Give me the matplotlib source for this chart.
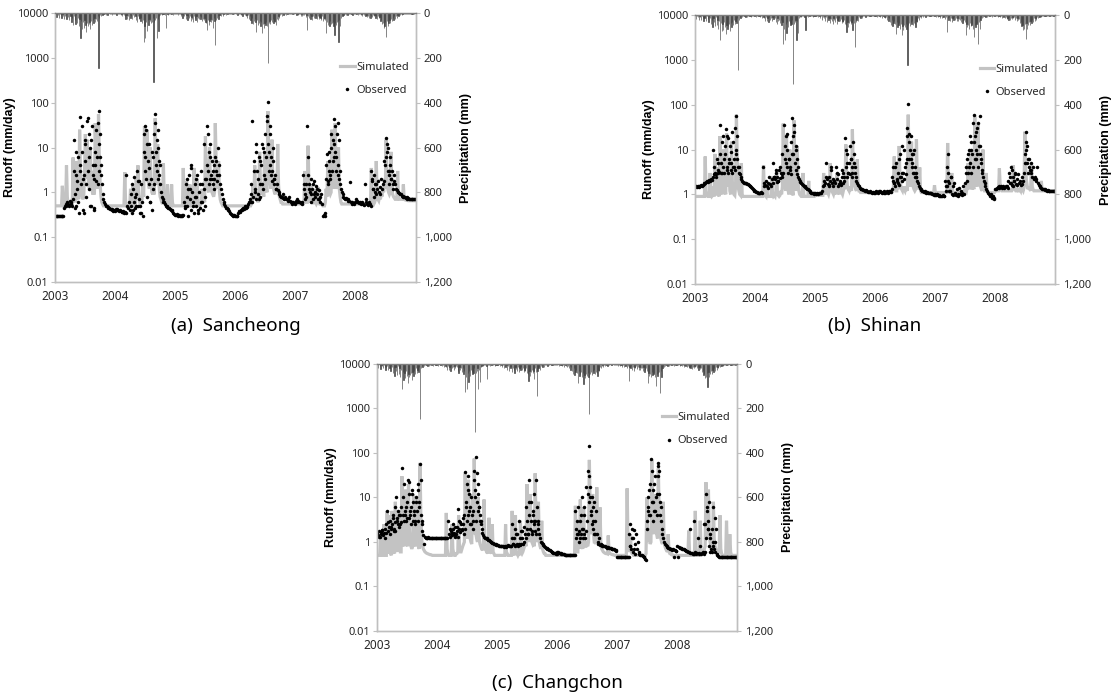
import matplotlib
matplotlib.use('Agg')
import matplotlib.pyplot as plt
from matplotlib.ticker import NullLocator

plt.rcParams['font.family'] = ['Noto Sans', 'DejaVu Sans']

# ---------------- axis data ----------------
years = ['2003', '2004', '2005', '2006', '2007', '2008']
year_start = [0, 365, 731, 1096, 1461, 1826]      # day offsets of 1 Jan
x_end = 2192
runoff_ticks = [0.01, 0.1, 1, 10, 100, 1000, 10000]
runoff_labels = ['0.01', '0.1', '1', '10', '100', '1000', '10000']
precip_ticks = [0, 200, 400, 600, 800, 1000, 1200]
precip_labels = ['0', '200', '400', '600', '800', '1,000', '1,200']

# ---------------- precipitation (mm, 5-day max, shared) ----------------
precip_2003 = [3,18,2,10,22,5, 8,20,4,15,25,12, 10,28,6,18,30,8, 15,40,20,55,12,30, 50,10,45,20,60,25, 113,35,70,40,65,30, 55,85,45,60,50,40, 70,35,55,30,45,20, 40,25,35,15,247,20, 10,15,5,8,3,6, 5,8,3,10,4,2, 6,3,8,2,5,4,3]
precip_2004 = [4,8,2,6,3,5, 10,6,15,4,8,12, 25,10,28,15,30,8, 20,12,25,8,18,10, 15,30,40,12,25,20, 35,20,45,30,128,60, 113,40,80,30,55,25, 35,45,40,20,306,40, 30,20,113,25,80,15, 10,5,8,3,6,4, 8,68,5,3,10,4, 6,3,5,2,8,4,3]
precip_2005 = [3,6,2,8,4,5, 12,5,20,8,15,6, 25,10,30,15,20,12, 35,18,25,40,15,22, 30,12,38,20,25,15, 28,18,35,25,30,20, 40,45,76,30,54,35, 25,40,30,68,20,35, 143,30,20,15,25,10, 8,12,5,15,6,4, 5,8,3,6,2,4, 3,5,2,4,6,3,2]
precip_2006 = [5,2,8,3,6,4, 10,4,12,6,3,8, 15,8,20,10,25,12, 30,45,20,50,35,25, 40,85,30,55,45,35, 60,40,90,50,65,45, 55,40,60,225,45,35, 50,30,40,25,45,35, 40,54,25,30,15,20, 10,6,12,4,8,3, 5,8,3,6,2,4, 3,6,2,5,3,4,2]
precip_2007 = [4,8,3,10,5,6, 12,6,15,8,10,5, 18,10,76,15,20,8, 25,12,30,15,20,10, 22,15,28,12,25,18, 20,30,15,35,25,20, 30,87,40,55,45,60, 35,50,45,40,60,97, 45,55,40,35,130,30, 60,20,10,15,8,5, 6,10,4,8,3,5, 4,6,3,8,2,5,3]
precip_2008 = [3,6,2,8,4,5, 10,4,12,6,8,5, 15,8,18,12,20,10, 23,12,18,8,15,10, 20,12,25,15,22,18, 35,30,50,45,65,60, 40,105,35,60,45,30, 45,25,35,20,30,15, 25,12,20,10,15,8, 10,5,8,3,6,4, 5,3,6,2,4,3, 3,2,5,3,2,4,2]
precip = [precip_2003, precip_2004, precip_2005, precip_2006, precip_2007, precip_2008]

# ---------------- (a) Sancheong ----------------
obs_a = [
 [0.3,0.3,0.3,0.3,0.3,0.3, 0.3,0.3,0.3,0.3,0.45,0.5, 0.55,0.5,0.6,0.55,0.5,0.65, 0.55,0.6,0.5,0.7,15,0.45, 2.5,0.5,1.2,6,0.35,3, 48,1.5,8,0.4,2.5,15, 5,0.8,40,3,20,1.2, 10,0.5,30,4,0.45,2, 4,25,6,1.5,12,65, 6,2.5,1.5,0.9,0.7,0.6, 0.55,0.5,0.5,0.45,0.48,0.45, 0.42,0.42,0.4,0.42,0.38,0.4,0.38],
 [0.42,0.4,0.42,0.4,0.38,0.4, 0.38,0.37,0.36,0.38,0.35,0.36, 0.35,2.5,0.5,0.45,0.6,0.4, 0.9,0.5,0.35,1.2,0.6,0.45, 0.8,0.5,3,1.8,0.7,0.5, 0.35,1.5,0.6,0.3,8,30, 3,25,0.8,5,1.5,12, 0.6,2,0.4,6,1.5,20, 55,8,3,25,2,5, 1.5,1.0,0.8,0.7,0.6,0.6, 0.55,0.5,0.5,0.48,0.45,0.45, 0.42,0.4,0.4,0.38,0.35,0.33,0.32],
 [0.32,0.33,0.32,0.3,0.32,0.3, 0.3,0.32,0.3,0.31,0.6,0.45, 1.5,0.8,0.5,1.2,2.5,0.7, 0.4,4,1.0,0.6,0.35,1.5, 0.8,0.5,2.5,0.35,1.0,0.45, 3,0.6,1.5,0.4,1.2,0.8, 0.5,2,30,3,8,2, 12,2.5,5,1.5,4,2, 6,3,1.8,10,2.5,4, 1.5,1.2,0.9,0.7,0.6,0.55, 0.5,0.45,0.45,0.42,0.4,0.38, 0.35,0.33,0.32,0.32,0.3,0.32,0.3],
 [0.3,0.3,0.3,0.35,0.38,0.36, 0.4,0.42,0.4,0.45,0.42,0.5, 0.45,0.5,0.48,0.55,0.6,0.7, 0.9,0.6,40,0.8,5,1.2, 0.7,12,3,0.9,6,1.5, 0.8,4,12,1.2,8,2, 20,6,50,105,8,30, 4,2.5,3,10,2,1.5, 2.5,1.2,1.5,1.1,1.0,0.9, 0.85,0.8,0.8,0.75,0.9,0.7, 0.8,0.7,0.72,0.65,0.7,0.8, 0.65,0.6,0.62,0.55,0.6,0.58,0.55],
 [0.65,0.6,0.7,0.65,0.6,0.62, 0.58,0.6,0.55,2.5,1.2,0.9, 1.5,0.8,30,6,1.5,1.0, 2,0.9,1.2,0.7,1.8,1.0, 0.8,1.4,0.9,0.7,1.1,0.8, 0.6,0.9,0.55,0.3,0.32,0.3, 0.35,2,7,1.5,3,5, 2,10,3,15,6,44, 8,3,20,35,4,2, 1.5,1.2,1.0,0.9,0.8,0.75, 0.7,0.75,0.7,0.65,0.7,0.65, 1.7,0.6,0.55,0.6,0.58,0.55,0.6],
 [0.7,0.65,0.6,0.62,0.58,0.6, 0.55,0.58,0.6,0.55,0.52,1.5, 0.7,0.6,0.55,0.52,0.6,0.55, 0.5,3,1.8,1.2,2.5,1.0, 1.5,0.9,1.2,1.8,1.0,1.3, 0.9,2,1.2,1.5,1.8,5, 4,16,8,10,3,2.5, 4,2,3,1.5,2.5,1.8, 1.5,1.2,1.1,1.0,1.0,0.95, 0.9,0.9,0.85,0.85,0.8,0.8, 0.78,0.75,0.78,0.72,0.75,0.72, 0.7,0.72,0.7,0.72,0.7,0.7,0.72],
]
obs_a_extra = [(112,3),(118,0.9),(127,8),(133,1.8),(140,0.6),(148,4),(160,30),(168,2),(172,0.35),(180,12),(188,1.5),(196,45),(203,6),(210,0.5),(218,15),(226,2.5),(233,0.4),(241,8),(247,1.8),(258,35),(265,3),(272,20),(278,4),
 (465,1.5),(472,0.4),(480,2.2),(490,0.9),(500,0.5),(510,1.8),(520,0.35),(540,20),(547,6),(553,2),(560,12),(567,3.5),(575,0.6),(585,8),(593,1.2),(606,35),(612,4),(618,15),(626,10),(632,2.5),(638,4),
 (790,0.5),(798,2),(808,0.3),(818,1.2),(828,3.5),(838,0.5),(848,0.8),(858,2),(868,0.4),(878,1.5),(890,0.6),(905,12),(912,2),(920,4),(928,20),(935,1.5),(942,6),(950,2),(958,3),(965,1.2),(975,5),(985,2.5),
 (1190,1.5),(1198,0.6),(1206,3),(1215,1),(1222,8),(1230,2),(1238,0.7),(1246,5),(1255,1.5),(1262,10),(1270,2.5),(1290,40),(1295,12),(1300,3),(1306,20),(1312,6),(1318,1.8),(1325,5),(1332,2),(1340,1.2),
 (1515,1.5),(1522,0.7),(1535,2.5),(1545,1.2),(1555,0.6),(1565,1.5),(1575,0.9),(1590,1.2),(1605,0.7),(1650,4),(1657,1.8),(1665,8),(1672,2.5),(1680,20),(1687,5),(1695,12),(1702,30),(1710,6),(1718,2.5),(1725,15),(1732,3),
 (1925,2),(1933,1.2),(1941,0.8),(1950,1.5),(2010,6),(2017,12),(2023,3),(2030,1.5),(2037,6),(2045,2),(2055,1.2)]
sim_a = [
 [0.5,0.5,0.5,0.5,0.5,0.5, 0.5,0.5,1.4,0.6,0.5,0.5, 0.5,4,0.8,0.55,0.5,0.5, 0.5,0.5,0.55,6,1.0,0.7, 0.6,5,1.0,0.8,0.7,25, 3,1.2,0.8,0.7,0.8,3, 20,2,15,2.5,1.5,1.2, 10,2,1.2,0.9,3,0.9, 35,4,1.5,1.2,55,6, 1.5,0.8,0.6,0.55,0.5,0.5, 0.5,0.5,0.5,0.5,0.5,0.5, 0.5,0.5,0.5,0.5,0.5,0.5,0.5],
 [0.5,0.5,0.5,0.5,0.5,0.5, 0.5,0.5,0.5,0.5,0.5,2.8, 0.6,0.5,0.5,0.5,0.5,0.5, 1.2,0.6,0.5,1.4,0.6,0.5, 0.55,2,0.7,4,0.9,0.6, 0.55,0.6,0.7,1.5,0.8,30, 2,3,25,2.5,1.5,1.2, 10,1.5,1.0,0.9,1.2,0.9, 45,4,1.5,12,2,1.2, 0.8,0.7,0.6,0.55,4.5,0.8, 0.6,0.55,0.5,1.5,0.6,0.55, 0.5,0.5,1.5,0.6,0.5,0.5,0.5],
 [0.5,0.5,0.5,0.5,0.5,0.5, 0.5,0.5,0.5,3.5,0.7,0.55, 0.5,1.8,0.6,0.5,0.5,1.5, 0.6,0.5,0.5,0.5,3.5,0.7, 0.55,0.5,2,0.6,0.55,0.5, 0.55,0.6,1.2,0.7,0.8,0.6, 18,3,1.5,1.2,1.0,10, 2,1.2,1.0,0.9,0.8,1.0, 35,5,2,1.2,5,1.0, 0.7,0.6,0.55,0.5,0.5,0.5, 0.5,0.5,0.5,0.5,0.5,0.5, 0.5,0.5,0.5,0.5,0.5,0.5,0.5],
 [0.5,0.5,0.5,0.5,0.5,0.5, 0.5,0.5,0.5,0.5,0.5,0.5, 0.5,0.5,0.5,0.5,0.5,0.5, 0.5,0.55,0.6,1.5,0.7,4, 0.9,0.8,0.7,0.6,0.7,8, 1.5,1.0,0.9,1.2,0.8,7, 1.5,1.2,1.0,65,8,2, 1.5,1.2,15,2,1.2,1.0, 0.9,1.2,1.0,12,1.5,0.8, 0.7,0.6,0.6,0.55,0.55,0.55, 0.55,0.55,0.55,0.55,0.55,0.55, 0.55,0.55,0.55,0.55,0.55,0.55,0.55],
 [0.55,0.55,0.55,0.55,0.55,0.55, 0.55,0.55,0.55,0.55,0.6,3, 0.8,0.6,0.6,11,1.2,0.7, 0.6,1.5,0.7,0.6,0.55,1.2, 0.6,0.55,0.6,1.3,0.6,0.55, 0.55,0.55,0.55,0.5,0.5,0.5, 0.6,1.2,0.8,5,1.2,1.0, 0.9,1.0,25,2,2,1.2, 35,3,1.5,1.2,10,1.2, 0.8,0.6,0.55,0.55,0.55,0.55, 0.55,0.55,0.55,0.55,0.55,0.55, 0.55,0.55,0.55,0.55,0.55,0.55,0.55],
 [0.55,0.55,0.55,0.55,0.55,0.55, 0.55,0.55,0.55,0.55,0.55,0.55, 0.55,0.55,0.55,0.55,0.55,0.55, 0.55,3.5,0.8,0.6,0.55,0.6, 0.7,5,1.0,0.7,0.65,0.8, 0.7,0.9,0.8,1.2,1.0,2, 1.2,15,2,1.2,1.0,0.9, 1.0,8,1.2,0.9,0.8,0.75, 0.7,0.7,0.7,3,0.8,0.7, 0.7,0.7,0.7,0.7,1.5,0.7, 0.68,0.68,0.66,0.66,0.65,0.65, 0.65,0.65,0.65,0.65,0.65,0.65,0.65],
]

# ---------------- (b) Shinan ----------------
obs_b = [
 [1.45,1.5,1.45,1.5,1.45,1.5, 1.5,1.6,1.55,1.6,1.7,1.75, 1.8,1.9,2.0,1.9,2.0,2.1, 2.0,2.2,2.1,2.4,10,2.8, 3,2.5,6,3.5,3,3.2, 35,5,3,15,4,3, 8,28,4,20,3,6, 12,3.5,5,25,4,6, 3.5,10,55,6,4,3, 2.8,2.5,2.2,2.0,1.9,1.8, 1.8,1.8,1.75,1.7,1.7,1.6, 1.55,1.5,1.45,1.4,1.3,1.25,1.2],
 [1.2,1.15,1.15,1.1,1.1,1.1, 1.1,1.15,1.1,4,1.8,1.5, 1.6,2,1.5,1.8,1.4,2.5, 1.7,1.5,2.2,1.8,5,2.5, 2.2,3,1.9,2.5,2,3.5, 2.3,3,2.5,8,3,35, 6,20,4,10,3,6, 4,2.8,15,50,8,25, 5,10,3.5,2.8,2.4,2.2, 2,1.9,1.8,1.7,1.6,1.5, 1.5,1.45,1.4,1.35,1.3,1.25, 1.2,1.15,1.1,1.1,1.05,1.05,1.0],
 [1.05,1.0,1.05,1.0,1.05,1.1, 1.1,1.05,1.2,1.5,2,1.6, 1.8,5,2.2,1.7,2.5,1.6, 2,3.5,1.8,2.2,1.5,2, 1.8,4,2.2,1.5,2.8,1.7, 2,1.6,2.5,3,1.8,2.5, 18,4,2.5,8,3,5, 2.8,6,3,4,15,5, 3,2.5,2,1.8,1.6,1.5, 1.4,1.35,1.3,1.3,1.25,1.25, 1.2,1.25,1.2,1.2,1.15,1.15, 1.15,1.2,1.15,1.1,1.15,1.1,1.1],
 [1.15,1.2,1.15,1.1,1.15,1.2, 1.2,1.15,1.1,1.15,1.2,1.1, 1.1,1.15,1.2,1.1,1.15,1.2, 1.2,1.15,1.3,2,4,1.8, 1.5,5,2.2,1.8,3,1.6, 8,2.5,2,12,3,2.2, 4,2.8,20,6,105,22, 10,6,8,4,3,10, 2.5,3,2.5,2,1.8,1.5, 1.4,1.3,1.25,1.2,1.2,1.15, 1.15,1.2,1.1,1.15,1.1,1.1, 1.1,1.05,1.05,1.0,1.0,0.95,0.95],
 [1.0,0.95,1.0,0.95,0.9,0.95, 0.9,0.92,0.9,0.95,0.9,0.92, 2,1.2,1.5,3,8,1.8, 1.2,2.5,1.0,1.5,0.95,1.8, 1.1,0.95,1.3,1.0,0.9,1.4, 1.0,1.2,0.95,1.1,1.5,1.0, 1.8,4,2,6,3,10, 5,3,15,8,4,60, 20,10,6,30,4,12, 8,55,5,3,2.5,2, 1.8,1.5,1.3,1.2,1.1,1.0, 0.95,0.9,1.0,0.85,0.9,0.8,0.85],
 [1.3,1.35,1.4,1.45,1.4,1.5, 1.45,1.5,1.4,1.45,1.5,1.4, 1.45,1.5,1.5,1.4,2,3, 1.8,4,1.6,2.5,1.5,2, 3,1.7,2.2,1.6,2.8,1.8, 2,1.6,2.5,1.7,2,3, 5,10,25,12,6,4, 3.5,5,3,2.5,4,2.2, 2.5,2,2.2,4,1.8,1.6, 1.5,1.45,1.4,1.35,1.3,1.3, 1.3,1.25,1.25,1.2,1.25,1.2, 1.2,1.2,1.2,1.2,1.2,1.2,1.2],
]
obs_b_extra = [(115,4),(125,2.8),(140,5),(152,8),(160,3),(168,20),(176,6),(185,12),(192,3.5),(200,18),(208,5),(216,9),(223,3),(230,15),(238,4),(245,30),(252,8),(258,20),(265,4),
 (480,2.5),(490,3.5),(505,2),(520,4),(530,2.8),(548,12),(555,5),(562,22),(570,6),(578,3.5),(588,8),(596,20),(605,35),(612,12),(620,6),(628,4),
 (800,2.5),(815,1.5),(830,4),(848,2),(862,3),(880,1.8),(895,3.5),(910,2),(918,10),(925,5),(932,3),(942,12),(950,6),(958,2.5),(966,8),(975,4),
 (1200,2.5),(1210,1.8),(1220,4),(1230,2),(1240,6),(1250,2.5),(1262,3),(1275,10),(1282,5),(1290,30),(1300,15),(1305,6),(1312,20),(1318,5),(1325,8),(1332,3),(1340,4),(1348,2.5),
 (1525,1.5),(1532,4),(1540,2),(1548,1.2),(1560,2.5),(1650,3),(1660,8),(1668,4),(1675,20),(1682,10),(1690,40),(1697,15),(1705,6),(1712,25),(1718,8),(1725,40),(1732,12),(1740,6),(1748,3.5),
 (1915,2.5),(1922,1.8),(1930,3.5),(1940,2),(1950,2.8),(2010,8),(2015,15),(2020,5),(2028,3),(2035,6),(2045,3.5)]
sim_b = [
 [0.9,0.9,0.9,0.9,0.9,0.9, 0.9,0.9,0.9,0.9,0.9,0.9, 7,1.2,0.95,0.9,0.9,0.9, 3,1.0,0.9,0.95,1.5,0.9, 8,1.2,0.95,4,1.0,0.9, 20,3,1.2,1.0,10,2, 1.2,1.0,23,3,1.5,6, 1.2,1.0,15,2,1.2,1.0, 0.95,1.5,60,6,1.5,1.2, 1.0,0.95,5,1.0,0.9,0.9, 0.9,0.9,0.9,0.9,0.9,0.9, 0.9,0.9,0.9,0.9,0.9,0.9,0.9],
 [0.9,0.9,0.9,0.9,0.9,0.9, 0.9,0.9,0.9,0.9,4.5,1.0, 0.95,0.9,1.5,0.9,0.9,0.9, 0.9,0.9,2.5,1.0,0.9,0.95, 0.9,1.2,3.5,1.0,0.95,0.9, 0.95,1.2,1.0,1.5,38,4, 1.5,1.2,20,2,1.2,1.0, 10,1.5,1.0,1.2,0.95,45, 5,1.5,1.2,12,2,1.2, 1.0,0.95,0.9,0.9,3,1.0, 0.9,0.9,0.9,0.9,0.9,2, 0.95,0.9,0.9,0.9,0.9,0.9,0.9],
 [0.95,0.95,0.95,0.95,0.95,0.95, 0.95,0.95,0.95,0.95,3,1.2, 1.1,1.0,1.5,1.1,1.0,1.2, 5,1.5,1.2,1.1,1.0,1.2, 1.1,1.0,3,1.2,1.1,1.0, 1.5,1.2,1.1,1.0,1.2,1.5, 1.3,13,2.5,1.5,1.3,1.2, 1.5,1.3,1.2,28,4,1.8, 1.5,1.3,1.2,6,1.5,1.2, 1.2,1.1,1.1,1.15,1.1,1.1, 1.1,1.1,1.1,1.1,1.1,1.1, 1.1,1.1,1.1,1.1,1.1,1.1,1.1],
 [1.1,1.1,1.1,1.1,1.1,1.1, 1.1,1.1,1.1,1.1,1.1,1.1, 1.1,1.1,1.1,1.1,1.1,1.1, 1.1,1.1,1.1,1.2,1.5,7, 1.5,1.2,1.2,5,1.3,12, 2,1.5,1.3,1.2,1.5,1.3, 1.2,1.5,1.3,1.2,60,5, 2,1.5,15,2.5,1.5,1.3, 1.2,1.3,17,2,1.5,1.3, 4,1.2,1.1,1.1,1.1,1.1, 1.1,1.1,1.1,1.1,1.1,1.1, 1.1,1.1,1.1,1.1,1.1,1.1,1.6],
 [1.1,1.1,1.1,1.1,1.1,1.1, 1.1,1.1,1.1,1.1,1.1,1.1, 1.1,1.1,1.1,14,1.5,1.2, 1.1,1.1,3,1.2,1.1,1.1, 1.1,1.1,1.1,1.1,1.1,1.1, 1.1,1.1,1.1,1.1,1.1,1.2, 1.2,1.3,1.2,1.5,5,1.5, 1.3,10,1.5,1.3,1.5,1.3, 55,4,2,1.5,35,3, 1.8,1.5,1.3,1.2,10,1.5, 1.2,1.2,3,1.2,1.1,1.1, 1.1,1.1,1.1,1.1,1.1,1.1,1.1],
 [1.2,1.2,1.2,1.2,1.2,3.8, 1.5,1.3,1.2,1.2,1.2,1.2, 1.2,1.2,1.2,1.2,1.2,1.2, 1.2,1.2,1.2,1.3,4.5,1.5, 1.3,1.2,1.2,1.3,1.2,1.2, 1.3,1.2,1.5,1.3,1.2,1.4, 25,4,2,1.5,1.3,1.5, 1.3,1.2,5,1.5,1.3,1.2, 1.2,1.2,1.2,1.2,1.2,1.2, 1.2,1.2,2,1.3,1.2,1.2, 1.2,1.2,1.2,1.2,1.2,1.2, 1.2,1.2,1.2,1.2,1.2,1.2,1.2],
]

# ---------------- (c) Changchon ----------------
obs_c = [
 [1.6,1.4,1.8,1.3,1.7,1.5, 1.9,1.4,1.6,2,1.6,2.5, 5,1.8,2.2,1.5,3,2, 2.5,4,2,2.8,1.8,10, 3,5,2.2,4,2.5,6, 45,4,3,20,5,3, 8,25,3.5,12,4,6, 15,3,8,4,2.5,10, 5,3,20,8,58,4, 2.5,1.8,1.4,0.9,1.3,1.25, 1.25,1.2,1.3,1.2,1.25,1.2, 1.2,1.25,1.2,1.2,1.25,1.2,1.2],
 [1.2,1.2,1.2,1.25,1.2,1.2, 1.2,1.25,1.2,1.2,1.2,1.25, 1.2,3,1.5,2,1.3,1.8, 1.4,2.5,1.6,1.3,2.2,1.5, 1.8,5.5,2,3,1.7,2.5, 2,2.5,4,1.5,38,6, 3,15,30,5,2.5,10, 4,3,2,40,15,80, 8,20,5,6,3,2.5, 2,1.6,1.4,1.3,1.25,1.2, 1.2,1.15,1.1,1.1,1.05,1.0, 1.0,0.95,0.95,0.9,0.9,0.88,0.85],
 [0.85,0.85,0.82,0.8,0.82,0.8, 0.8,0.8,0.78,0.8,0.8,0.78, 0.8,0.85,0.8,0.82,0.8,0.8, 2.5,0.9,1.2,0.85,0.8,1.5, 0.9,0.8,3,1.2,0.85,0.9, 1.8,0.9,2.2,1.0,1.5,1.2, 3,1.5,25,4,2,8, 1.5,5,2.5,3,1.8,25, 6,2,3,1.5,1.2,1.0, 0.95,0.9,0.85,0.8,0.78,0.75, 0.72,0.7,0.68,0.66,0.65,0.62, 0.6,0.6,0.58,0.58,0.56,0.55,0.55],
 [0.6,0.6,0.58,0.58,0.56,0.55, 0.55,0.54,0.53,0.52,0.52,0.5, 0.5,0.5,0.5,0.5,0.5,0.5, 0.5,0.5,0.5,0.5,5,2, 1.5,6,1.8,1.2,3,1.5, 10,2,1.5,4,1.2,17, 3,40,8,140,17,5, 10,3,2,8,1.5,5, 1.5,1.0,0.9,1.2,0.85,0.9, 0.85,0.8,0.82,0.8,0.8,0.78, 0.78,0.75,0.76,0.74,0.72,0.72, 0.7,0.7,0.68,0.7,0.66,0.65,0.62],
 [0.45,0.45,0.45,0.45,0.45,0.45, 0.45,0.45,0.45,0.45,0.45,0.45, 0.45,0.45,0.45,0.8,2.5,0.7, 1.2,0.6,1.9,0.9,0.55,1.5, 0.7,1.0,0.6,0.55,0.5,0.52, 0.5,0.48,0.45,0.45,0.42,0.4, 2,5,10,4,20,75, 8,3,15,5,30,10, 4,60,50,12,4,6, 2,1.5,1.2,1.0,0.9,0.85, 0.8,0.78,0.75,0.72,0.7,0.7, 0.68,0.65,0.7,0.45,0.66,0.64,0.62],
 [0.8,0.45,0.78,0.75,0.74,0.72, 0.7,0.7,0.68,0.66,0.65,0.64, 0.62,0.6,0.6,0.58,2,0.58, 0.56,0.55,0.55,3,0.6,0.55, 0.58,1.2,0.56,0.55,0.8,0.55, 0.56,0.6,0.55,2.5,0.6,12, 6,2,3,0.8,1.2,0.7, 0.6,1.0,6,0.7,0.6,2, 0.55,0.5,0.48,0.47,0.46,0.46, 0.45,0.45,0.45,0.45,0.45,0.45, 0.45,0.45,0.45,0.45,0.45,0.45, 0.45,0.45,0.45,0.45,0.45,0.45,0.45],
]
obs_c_extra = [(15,1.3),(30,1.9),(50,1.2),(70,2.8),(85,2.2),(95,3.5),(105,1.8),(112,6),(120,3.5),(128,2.5),(138,4),(145,2.8),(160,10),(168,4),(178,6),(185,3.5),(193,22),(200,5),(208,2.5),(216,12),(224,5),(232,3),(240,8),(248,15),(256,6),(268,25),(275,3),
 (455,1.6),(465,2),(475,1.4),(485,2.2),(495,1.3),(505,2.8),(515,1.9),(525,3.5),(535,2),(545,8),(550,20),(556,4),(562,12),(568,6),(575,2.5),(582,5),(590,25),(597,10),(603,3),(608,35),(614,12),(620,6),(628,4),(636,3),
 (820,1.2),(830,0.9),(842,2),(852,1.5),(862,0.9),(875,1.8),(885,1.2),(905,6),(912,2),(920,1.5),(928,8),(935,3),(942,1.8),(950,4),(957,12),(963,3),(970,1.5),(978,2.5),
 (1210,1.2),(1218,3),(1225,1.5),(1232,1.0),(1240,4),(1248,2),(1255,1.2),(1262,6),(1270,1.8),(1285,12),(1290,30),(1298,10),(1302,4),(1308,2.5),(1315,6),(1322,1.5),(1330,3),
 (1535,1.5),(1542,0.8),(1550,2),(1558,1.2),(1565,0.7),(1643,3),(1650,6),(1658,15),(1665,4),(1672,40),(1680,8),(1688,20),(1695,5),(1705,12),(1712,30),(1718,40),(1725,8),(1732,3),
 (2000,2.5),(2005,1.2),(2010,5),(2015,2),(2020,8),(2025,1.5),(2030,0.6),(2040,2),(2045,0.8),(2055,3.5),(2060,1.0)]
sim_c = [
 [0.5,0.5,0.5,0.5,1.3,0.55, 0.5,0.5,2.5,0.6,0.5,0.5, 5,0.7,0.55,4,0.6,0.5, 5,0.8,0.6,0.55,8,1.0, 0.7,0.6,5,0.8,0.6,0.6, 30,2,0.9,0.8,15,1.5, 0.9,0.8,20,2,1.0,0.8, 0.7,0.8,12,1.5,0.9,0.8, 10,1.2,0.8,0.7,60,4, 1.2,0.8,0.7,0.65,0.6,0.58, 0.56,0.55,0.54,0.53,0.52,0.52, 0.51,0.5,0.5,0.5,0.5,0.5,0.5],
 [0.5,0.5,0.5,0.5,0.5,0.5, 0.5,0.5,0.5,0.5,0.5,4.5, 0.7,0.55,0.5,0.5,0.5,0.5, 2.5,0.7,0.55,0.5,0.5,0.55, 0.55,0.6,4,0.8,0.6,0.6, 0.7,0.8,0.9,1.0,35,3, 1.5,1.2,25,2,1.2,1.0, 0.9,12,1.5,75,6,1.5, 1.2,1.0,10,1.2,0.9,0.8, 0.7,0.7,0.65,9,1.0,0.7, 0.6,0.6,0.55,3.5,0.7,0.6, 0.55,2.5,0.6,0.55,0.5,0.5,0.5],
 [0.5,0.5,0.5,0.5,0.5,0.5, 0.5,0.5,0.5,0.5,2.5,0.6, 0.55,0.5,0.5,0.5,0.5,0.5, 5,0.7,0.55,0.5,4,0.6, 0.55,0.5,0.55,0.5,3,0.6, 0.55,0.6,0.7,0.8,0.9,0.8, 20,2,1.2,1.0,12,1.5, 1.0,0.9,1.0,0.8,35,3, 1.2,1.0,8,1.0,0.8,0.7, 3,0.7,0.6,0.55,0.55,0.5, 0.5,0.5,0.5,0.5,0.5,0.5, 0.5,0.5,0.5,0.5,0.5,0.5,0.5],
 [0.5,0.5,0.5,0.5,0.5,0.5, 0.5,0.5,0.5,0.5,0.5,0.5, 0.5,0.5,0.5,0.5,0.5,0.5, 0.5,0.5,0.5,0.5,6.5,0.8, 0.6,0.6,3,0.7,9,1.0, 0.8,0.7,6,1.0,0.8,0.8, 0.9,0.8,1.0,70,5,2, 1.5,12,1.5,1.0,1.0,0.9, 17,2,1.0,0.9,6,0.9, 0.7,0.65,0.6,0.58,0.56,0.55, 0.55,0.54,1.4,0.6,0.55,0.54, 0.53,0.52,0.52,0.51,0.5,0.5,0.5],
 [0.5,0.5,0.5,0.5,0.5,0.5, 0.5,0.5,0.5,0.5,0.5,0.5, 16,1.2,0.7,0.6,1.5,0.6, 0.55,0.55,0.5,0.5,0.5,0.5, 0.5,0.5,0.5,0.5,0.5,0.5, 0.5,0.5,0.5,0.5,0.5,0.55, 10,1.5,1.0,2,0.9,1.0, 70,5,2,1.5,12,2, 1.5,1.2,45,4,1.5,1.2, 1.0,0.9,8,1.0,0.8,0.7, 0.65,0.6,1.5,0.6,0.55,0.55, 0.52,0.52,0.5,0.5,0.5,0.5,0.5],
 [0.5,0.5,0.5,0.5,0.5,0.5, 0.5,0.5,0.5,0.5,0.5,0.5, 0.5,0.5,1.8,0.6,0.5,0.5, 0.5,0.5,0.5,0.5,5,0.7, 0.55,0.5,0.5,0.5,3,0.6, 0.55,0.6,0.6,0.7,0.8,22, 2,1.2,15,1.5,1.0,0.8, 0.7,0.7,8,1.2,0.8,0.7, 0.6,0.6,0.6,0.6,4,0.7, 0.55,0.5,0.5,0.5,0.5,0.5, 3,0.7,0.55,0.5,1.5,0.6, 0.5,0.5,0.5,0.5,0.5,0.5,0.5],
]

captions = ['(a)  Sancheong', '(b)  Shinan', '(c)  Changchon']
# layout (figure fractions)
axes_pos = [[0.0498, 0.5954, 0.3232, 0.3859],
            [0.6239, 0.5925, 0.3232, 0.3859],
            [0.3384, 0.0947, 0.3232, 0.3831]]
caption_xy = [(0.2114, 0.532), (0.7855, 0.532), (0.500, 0.020)]


def pentad_xy(year_lists):
    xs, ys = [], []
    for s, vals in zip(year_start, year_lists):
        for p, v in enumerate(vals):
            xs.append(s + 5 * p + 2)
            ys.append(v)
    return xs, ys


SPINE = '#bfbfbf'
TXT = '#262626'
LABEL_FONT = ['Liberation Sans', 'DejaVu Sans']

fig = plt.figure(figsize=(11.14, 6.97), dpi=100)

stations = [(obs_a, obs_a_extra, sim_a), (obs_b, obs_b_extra, sim_b), (obs_c, obs_c_extra, sim_c)]
for (obs, extra, sim), pos, cap, cxy in zip(stations, axes_pos, captions, caption_xy):
    ax = fig.add_axes(pos)
    ax2 = ax.twinx()

    sx, sy = pentad_xy(sim)
    ax.plot(sx, sy, color='#c3c3c3', lw=2.3, solid_joinstyle='miter', label='Simulated', zorder=2)
    ox, oy = pentad_xy(obs)
    ox = ox + [d for d, v in extra]
    oy = oy + [v for d, v in extra]
    ax.plot(ox, oy, ls='none', marker='o', ms=2.5, mew=0, color='black', label='Observed', zorder=3)

    px, py = pentad_xy(precip)
    ax2.bar(px, py, width=1.6, color='#404040', edgecolor='#404040', lw=0.45, align='center')

    ax.set_yscale('log')
    ax.set_ylim(0.01, 10000)
    ax.set_xlim(0, x_end)
    ax.set_yticks(runoff_ticks)
    ax.set_yticklabels(runoff_labels)
    ax.yaxis.set_minor_locator(NullLocator())
    ax.set_xticks(year_start)
    ax.set_xticklabels(years)

    ax2.set_ylim(1200, 0)
    ax2.set_yticks(precip_ticks)
    ax2.set_yticklabels(precip_labels)

    for a in (ax, ax2):
        for sp in a.spines.values():
            sp.set_color(SPINE)
            sp.set_linewidth(1.0)
        a.spines['top'].set_visible(False)
    ax2.spines['top'].set_visible(True)
    ax2.spines['top'].set_color('#7f7f7f')

    ax.tick_params(axis='y', which='major', length=3, color=SPINE, labelsize=8, labelcolor=TXT, pad=2)
    ax.tick_params(axis='x', length=0, labelsize=8.5, labelcolor=TXT, pad=6)
    ax2.tick_params(axis='y', length=3, color=SPINE, labelsize=8, labelcolor=TXT, pad=3)

    ax.set_ylabel('Runoff (mm/day)', fontsize=9, fontweight='bold', family=LABEL_FONT,
                  color='black', labelpad=1)
    ax2.set_ylabel('Precipitation (mm)', fontsize=9, fontweight='bold', family=LABEL_FONT,
                   color='black', labelpad=6)

    ax.legend(loc='upper left', bbox_to_anchor=(0.775, 0.84), frameon=False, fontsize=8,
              handlelength=1.3, handletextpad=0.15, labelspacing=1.1, borderpad=0,
              numpoints=1, labelcolor=TXT)

    fig.text(cxy[0], cxy[1], cap, ha='center', va='center', fontsize=13.5, color='black')

fig.savefig('out.png', dpi=100)
